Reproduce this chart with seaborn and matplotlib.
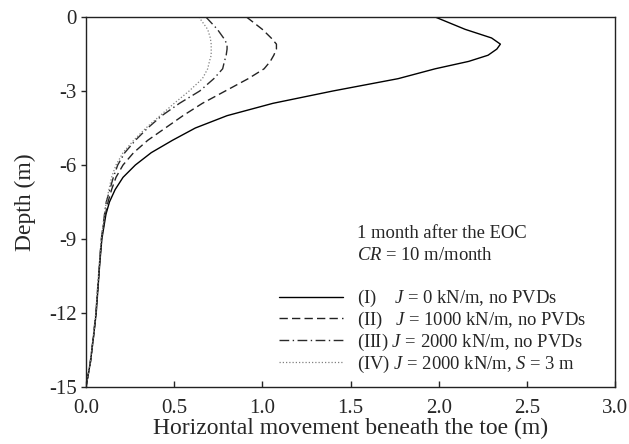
import matplotlib
matplotlib.use("Agg")
import matplotlib.pyplot as plt
import seaborn as sns
import pandas as pd

sns.set_style("ticks")
plt.rcParams['font.family'] = ['Liberation Serif', 'DejaVu Serif']
plt.rcParams['mathtext.fontset'] = 'custom'
plt.rcParams['mathtext.rm'] = 'Liberation Serif'
plt.rcParams['mathtext.it'] = 'Liberation Serif:italic'
plt.rcParams['axes.unicode_minus'] = False

depth = [0, -0.5, -0.85, -1.1, -1.3, -1.55, -1.8, -2.1, -2.5, -3, -3.5, -4, -4.5, -5,
         -5.5, -6, -6.5, -7, -7.5, -8, -9, -10, -11, -12, -13, -14, -15]
move_I = [1.98, 2.15, 2.30, 2.35, 2.33, 2.28, 2.17, 1.98, 1.77, 1.40, 1.06, 0.80, 0.62, 0.49,
          0.37, 0.28, 0.21, 0.165, 0.133, 0.113, 0.09, 0.078, 0.068, 0.058, 0.042, 0.025, 0.0]
move_II = [0.91, 1.00, 1.05, 1.08, 1.08, 1.065, 1.045, 1.01, 0.92, 0.79, 0.66, 0.55, 0.45, 0.35,
           0.27, 0.21, 0.17, 0.145, 0.125, 0.11, 0.088, 0.077, 0.067, 0.057, 0.042, 0.025, 0.0]
move_III = [0.68, 0.745, 0.78, 0.80, 0.80, 0.795, 0.785, 0.775, 0.725, 0.645, 0.53, 0.43, 0.35, 0.28,
            0.22, 0.18, 0.155, 0.135, 0.115, 0.105, 0.087, 0.076, 0.066, 0.056, 0.041, 0.024, 0.0]
move_IV = [0.64, 0.69, 0.705, 0.71, 0.71, 0.71, 0.70, 0.69, 0.66, 0.585, 0.50, 0.42, 0.34, 0.27,
           0.21, 0.17, 0.145, 0.13, 0.115, 0.105, 0.087, 0.076, 0.066, 0.056, 0.041, 0.024, 0.0]

labels = [r"(I)    $J$ = 0 kN/m, no PVDs",
          r"(II)   $J$ = 1000 kN/m, no PVDs",
          r"(III) $J$ = 2000 kN/m, no PVDs",
          r"(IV) $J$ = 2000 kN/m, $S$ = 3 m"]
xticks = [0.0, 0.5, 1.0, 1.5, 2.0, 2.5, 3.0]
xtick_labels = ["0.0", "0.5", "1.0", "1.5", "2.0", "2.5", "3.0"]
yticks = [0, -3, -6, -9, -12, -15]
ytick_labels = ["0", "-3", "-6", "-9", "-12", "-15"]

W, H = 629, 444
fig = plt.figure(figsize=(W / 100, H / 100), dpi=100)
ax = fig.add_axes([86 / W, 1 - 387 / H, (615 - 86) / W, (387 - 17) / H])

styles = [dict(color="black", linestyle="-", linewidth=1.0),
          dict(color="#222222", linestyle=(0, (6, 3)), linewidth=1.0),
          dict(color="#2a2a2a", linestyle=(0, (7, 2.5, 1, 2.5)), linewidth=1.0),
          dict(color="#808080", linestyle=(0, (1, 1.6)), linewidth=0.9)]
series = [move_I, move_II, move_III, move_IV]
for vals, lab, st in zip(series, labels, styles):
    df = pd.DataFrame({"x": vals, "y": depth})
    sns.lineplot(data=df, x="x", y="y", sort=False, estimator=None, ax=ax, label=lab, **st)

ax.set_xlim(0, 3.0)
ax.set_ylim(-15, 0)
ax.set_xticks(xticks)
ax.set_xticklabels(xtick_labels)
ax.set_yticks(yticks)
ax.set_yticklabels(ytick_labels)
ax.tick_params(axis="x", direction="in", length=4.3, labelsize=15, pad=8.5, width=1)
ax.tick_params(axis="y", direction="out", length=3.3, labelsize=15, pad=3.5, width=1)
for s in ax.spines.values():
    s.set_linewidth(1.0)
    s.set_color("#222222")
ax.set_xlabel("Horizontal movement beneath the toe (m)", fontsize=17, va="center")
ax.set_ylabel("Depth (m)", fontsize=17, va="center")
ax.xaxis.set_label_coords(0.5, -(428 - 387) / 370)
ax.yaxis.set_label_coords(-(86 - 25) / 529, 0.5)

ax.text(357, H - 233, "1 month after the EOC", transform=None, fontsize=13.4,
        va="center", ha="left")
ax.text(357, H - 255, r"$CR$ = 10 m/month", transform=None, fontsize=13.4,
        va="center", ha="left")

fs = 13.4
em = fs * 100 / 72
leg = ax.legend(loc="upper left",
                bbox_to_anchor=((279 - 86) / 529, (387 - 288) / 370),
                frameon=False, fontsize=fs, handlelength=64 / em, handletextpad=14 / em,
                labelspacing=0.04, borderpad=0, borderaxespad=0)

fig.savefig("out.png", dpi=100)
